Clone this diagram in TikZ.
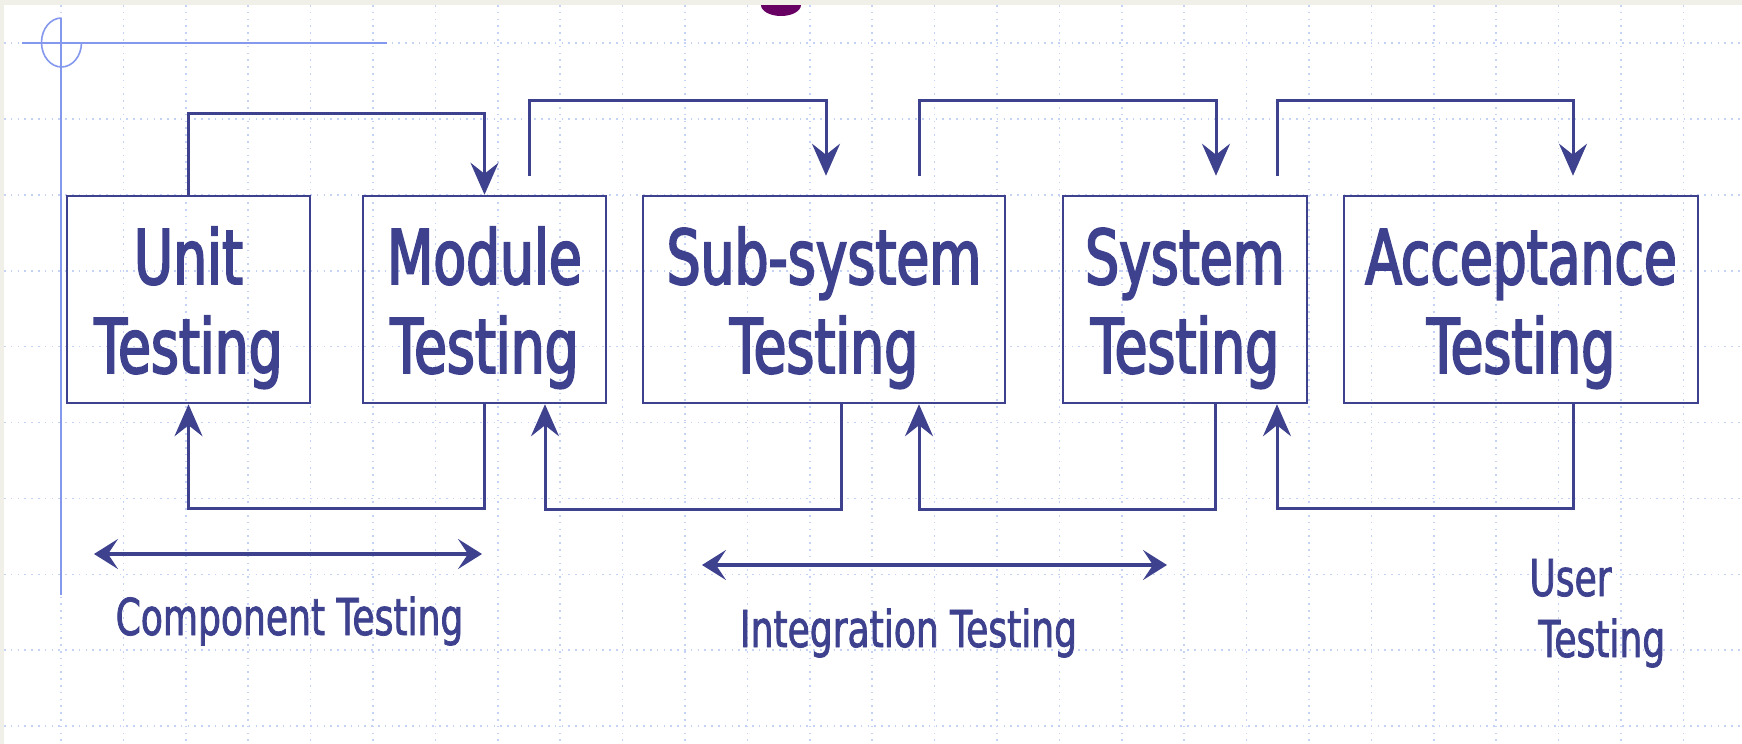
\documentclass[tikz,border=0pt]{standalone}
\usepackage{fontspec}
\usetikzlibrary{arrows.meta,calc}
\newfontfamily\diafont{DejaVu Sans}[FakeStretch=0.71,FakeBold=2.5]
\newfontfamily\notefont{DejaVu Sans}[FakeStretch=0.71,FakeBold=1.5]
\definecolor{ink}{RGB}{62,66,142}
\definecolor{gridblue}{RGB}{196,210,246}
\definecolor{axisblue}{RGB}{132,152,238}
\definecolor{edgegray}{RGB}{240,240,232}
\definecolor{plum}{RGB}{104,0,100}

\begin{document}
\begin{tikzpicture}[x=0.5pt,y=-0.5pt,
  stage/.style={draw=ink, line width=1.25pt, minimum height=103.5pt, inner sep=0pt},
  boxtext/.style={anchor=base, text=ink, inner sep=0pt, font=\diafont\fontsize{37.7}{44}\selectfont},
  smalltext/.style={anchor=base, text=ink, inner sep=0pt, font=\notefont\fontsize{25.4}{30}\selectfont},
  fwd/.style={draw=ink, line width=1.5pt, -{Stealth[length=16pt,width=14pt,inset=5.5pt]}},
  rangearrow/.style={draw=ink, line width=1.75pt,
    {Stealth[length=12pt,width=15pt,inset=5pt]}-{Stealth[length=12pt,width=15pt,inset=5pt]}},
  dotgrid/.style={draw=gridblue, line width=0.8pt, dash pattern=on 0.8pt off 2.6pt},
  axis/.style={draw=axisblue, line width=0.8pt},
]
% page
\useasboundingbox (0,0) rectangle (1742,744);
\fill[white] (0,0) rectangle (1742,744);
\fill[edgegray] (0,0) rectangle (4,744);
\fill[edgegray] (0,0) rectangle (1742,5);

% dotted grid
\foreach \k in {0,...,26}
  \draw[dotgrid] ({61+62.4*\k},5) -- ({61+62.4*\k},744);
\foreach \k in {0,...,9}
  \draw[dotgrid] (4,{43+75.9*\k}) -- (1742,{43+75.9*\k});

% corner mark
\draw[axis] (22,43) -- (387,43);
\draw[axis] (61,18) -- (61,595);
\draw[axis] (61.5,18) arc[start angle=270, end angle=0, x radius=20, y radius=24.5];

% bullet at the top edge
\fill[plum] (761,5) arc[start angle=180, end angle=0, x radius=20, y radius=11] -- cycle;

% stages
\node[stage, minimum width=121.5pt] (unit)   at (188.5,299.5) {};
\node[stage, minimum width=121.5pt] (module) at (484.5,299.5) {};
\node[stage, minimum width=181pt]   (subsys) at (824,299.5) {};
\node[stage, minimum width=122pt]   (system) at (1185,299.5) {};
\node[stage, minimum width=177pt]   (accept) at (1521,299.5) {};

\node[boxtext] (unitA)   at (188.5,284) {Unit};
\node[boxtext] (unitB)   at (188.5,373) {Testing};
\node[boxtext] (moduleA) at (484.5,284) {Module};
\node[boxtext] (moduleB) at (484.5,373) {Testing};
\node[boxtext] (subsysA) at (824,284) {Sub-system};
\node[boxtext] (subsysB) at (824,373) {Testing};
\node[boxtext] (systemA) at (1185,284) {System};
\node[boxtext] (systemB) at (1185,373) {Testing};
\node[boxtext] (acceptA) at (1521,284) {Acceptance};
\node[boxtext] (acceptB) at (1521,373) {Testing};

% forward hand-offs
\draw[fwd] (unit.north) -- ++(0,-81) -| (module.north);
\draw[fwd] ($(module.north)+(44.5,-19)$) -- ++(0,-75) -| ($(subsys.north)+(2,-19)$);
\draw[fwd] ($(subsys.north)+(95,-19)$) -- ++(0,-75) -| ($(system.north)+(31,-19)$);
\draw[fwd] ($(system.north)+(92,-19)$) -- ++(0,-75) -| ($(accept.north)+(52,-19)$);

% feedback loops
\draw[fwd] (module.south) -- ++(0,104) -| (unit.south);
\draw[fwd] ($(subsys.south)+(17,0)$) -- ++(0,105) -| ($(module.south)+(60.5,0)$);
\draw[fwd] ($(system.south)+(30,0)$) -- ++(0,105) -| ($(subsys.south)+(95,0)$);
\draw[fwd] ($(accept.south)+(52,0)$) -- ++(0,104) -| ($(system.south)+(92,0)$);

% testing phases
\coordinate (compL) at (94,554);
\coordinate (compR) at (482,554);
\draw[rangearrow] (compL) -- (compR);
\coordinate (integL) at (702,565);
\coordinate (integR) at (1167,565);
\draw[rangearrow] (integL) -- (integR);

\node[smalltext] (comp)  at (289.5,635) {Component Testing};
\node[smalltext] (integ) at (908.5,647) {Integration Testing};
\node[smalltext, anchor=base west] (userA) at (1529,596) {User};
\node[smalltext, anchor=base west] (userB) at (1538,657) {Testing};
\end{tikzpicture}
\end{document}
